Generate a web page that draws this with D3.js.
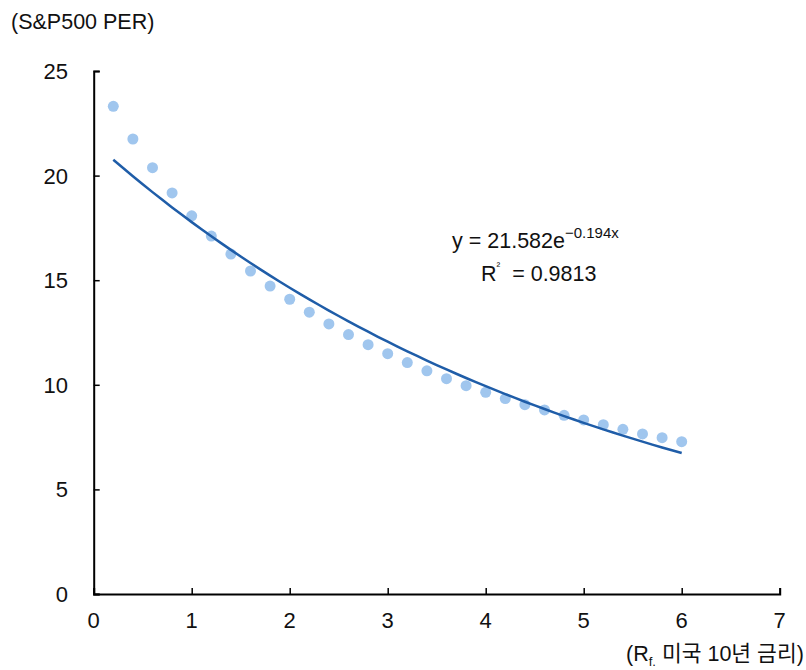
<!DOCTYPE html>
<html>
<head>
<meta charset="utf-8">
<script src="https://cdn.jsdelivr.net/npm/d3@7"></script>
<style>
  body { margin: 0; background: #fff; }
  text { font-family: "Liberation Sans", "Noto Sans CJK KR", sans-serif; fill: #111; }
</style>
</head>
<body>
<script>
// 미국 10년 금리 (x) vs S&P500 PER (y)
const rates = [0.2, 0.4, 0.6, 0.8, 1.0, 1.2, 1.4, 1.6, 1.8, 2.0,
               2.2, 2.4, 2.6, 2.8, 3.0, 3.2, 3.4, 3.6, 3.8, 4.0,
               4.2, 4.4, 4.6, 4.8, 5.0, 5.2, 5.4, 5.6, 5.8, 6.0];
const per = [23.31, 21.75, 20.38, 19.17, 18.08, 17.11, 16.25, 15.44, 14.72, 14.09,
             13.47, 12.91, 12.40, 11.92, 11.49, 11.06, 10.67, 10.29, 9.96, 9.64,
             9.34, 9.05, 8.80, 8.54, 8.32, 8.09, 7.87, 7.65, 7.47, 7.28];
const xTicks = [0, 1, 2, 3, 4, 5, 6, 7];
const yTicks = [0, 5, 10, 15, 20, 25];
// 추세선 계수 (지수)
const fitA = 21.582, fitB = -0.194;

const W = 806, H = 670;
const svg = d3.select("body").append("svg").attr("width", W).attr("height", H);

const x = d3.scaleLinear().domain([0, 7]).range([93.7, 779.7]);
const y = d3.scaleLinear().domain([0, 25]).range([594, 71]);

// axes
const yAxis = svg.append("g").attr("transform", `translate(${x(0)},0)`)
  .call(d3.axisRight(y).tickValues(yTicks).tickSize(6).tickFormat(""));
const xAxis = svg.append("g").attr("transform", `translate(0,${y(0)})`)
  .call(d3.axisTop(x).tickValues(xTicks).tickSize(6).tickFormat(""));
[xAxis, yAxis].forEach(g => {
  g.select(".domain").attr("stroke", "#000").attr("stroke-width", 2);
  g.selectAll(".tick line").attr("stroke", "#000").attr("stroke-width", 1.5);
});

svg.append("g").selectAll("text").data(yTicks).join("text")
  .attr("x", 68).attr("y", d => y(d)).attr("dy", "0.36em")
  .attr("text-anchor", "end").attr("font-size", 22).text(d => d);
svg.append("g").selectAll("text").data(xTicks).join("text")
  .attr("x", d => x(d)).attr("y", 628)
  .attr("text-anchor", "middle").attr("font-size", 22).text(d => d);

// points
svg.append("g").selectAll("circle").data(rates).join("circle")
  .attr("cx", d => x(d)).attr("cy", (d, i) => y(per[i]))
  .attr("r", 5.5).attr("fill", "#a0c6ee");

// trend line
const xs = d3.range(0, 59).map(i => 0.2 + i * 0.1);
svg.append("path")
  .datum(xs)
  .attr("fill", "none").attr("stroke", "#1f5da8").attr("stroke-width", 2.5)
  .attr("d", d3.line().x(d => x(d)).y(d => y(fitA * Math.exp(fitB * d))));

// labels
svg.append("text").attr("x", 11).attr("y", 29).attr("font-size", 21.5).text("(S&P500 PER)");

const eq = svg.append("text").attr("x", 452).attr("y", 248).attr("font-size", 21.5);
eq.append("tspan").text("y = 21.582e");
eq.append("tspan").attr("dy", -10).attr("font-size", 15).text("−0.194x");

const r2 = svg.append("text").attr("x", 481).attr("y", 281).attr("font-size", 21.5)
  .attr("xml:space", "preserve");
r2.append("tspan").text("R");
r2.append("tspan").attr("dy", -11).attr("font-size", 11).text("²");
r2.append("tspan").attr("dy", 11).text("  = 0.9813");

const xl = svg.append("text").attr("x", 626).attr("y", 661).attr("font-size", 21.5);
xl.append("tspan").text("(R");
xl.append("tspan").attr("dy", 5).attr("font-size", 13).text("f.");
xl.append("tspan").attr("dy", -5).text(" 미국 10년 금리)");
</script>
</body>
</html>
